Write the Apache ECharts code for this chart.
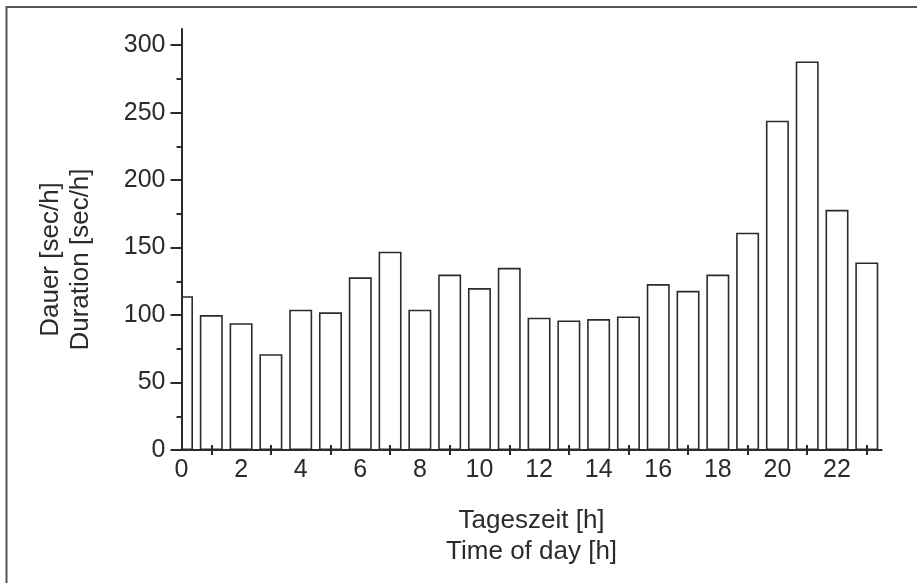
<!DOCTYPE html>
<html>
<head>
<meta charset="utf-8">
<script src="https://cdn.jsdelivr.net/npm/echarts@6/dist/echarts.min.js"></script>
<style>
  html, body { margin: 0; padding: 0; background: #fff; }
  #chart { width: 917px; height: 583px; }
</style>
</head>
<body>
<div id="chart"></div>
<script>
const hours = [0, 1, 2, 3, 4, 5, 6, 7, 8, 9, 10, 11, 12, 13, 14, 15, 16, 17, 18, 19, 20, 21, 22, 23];
const duration = [114, 100, 94, 71, 104, 102, 128, 147, 104, 130, 120, 135, 98, 96, 97, 99, 123, 118, 130, 161, 244, 288, 178, 139];
const xLabels = [0, 2, 4, 6, 8, 10, 12, 14, 16, 18, 20, 22];
const xMinorTicks = [1, 3, 5, 7, 9, 11, 13, 15, 17, 19, 21, 23];
const yMajor = [0, 50, 100, 150, 200, 250, 300];
const yMinor = [25, 75, 125, 175, 225, 275];

const ink = '#2b2b2b';
const font = 'Liberation Sans, Arial, sans-serif';
const gridLeft = 181.5;

const chart = echarts.init(document.getElementById('chart'));

const xBase = { type: 'value', min: 0, max: 23.5, position: 'bottom', splitLine: { show: false } };
const yBase = { type: 'value', min: 0, max: 312, position: 'left', splitLine: { show: false } };

chart.setOption({
    animation: false,
    grid: { left: gridLeft, right: 35.3, top: 29, bottom: 133, outerBoundsMode: 'none' },
    xAxis: [
        Object.assign({}, xBase, {
            z: 5,
            axisLine: { lineStyle: { color: ink, width: 2 } },
            axisTick: { customValues: xMinorTicks, length: 5, lineStyle: { color: ink, width: 2 } },
            axisLabel: { customValues: xLabels, margin: 8, color: ink, fontSize: 25, fontFamily: font },
            name: 'Tageszeit [h]\nTime of day [h]',
            nameLocation: 'middle',
            nameGap: 55,
            nameTextStyle: { color: ink, fontSize: 26, fontFamily: font, lineHeight: 31 }
        }),
        Object.assign({}, xBase, {
            z: 5,
            axisLine: { show: false },
            axisTick: { customValues: xMinorTicks, inside: true, length: 5, lineStyle: { color: ink, width: 2 } },
            axisLabel: { show: false }
        })
    ],
    yAxis: [
        Object.assign({}, yBase, {
            z: 5,
            axisLine: { show: true, lineStyle: { color: ink, width: 2 } },
            axisTick: { show: true, customValues: yMajor, length: 11, lineStyle: { color: ink, width: 2 } },
            axisLabel: { customValues: yMajor, margin: 16, color: ink, fontSize: 25, fontFamily: font },
            name: 'Dauer [sec/h]\nDuration [sec/h]',
            nameLocation: 'middle',
            nameGap: 86,
            nameRotate: 90,
            nameTextStyle: { color: ink, fontSize: 26, fontFamily: font, lineHeight: 30, padding: [0, 40, 0, 0] }
        }),
        Object.assign({}, yBase, {
            z: 5,
            axisLine: { show: false },
            axisTick: { show: true, customValues: yMinor, length: 5, lineStyle: { color: ink, width: 2 } },
            axisLabel: { show: false }
        })
    ],
    graphic: [
        {
            type: 'polyline',
            shape: { points: [[6.5, 583], [6.5, 7], [917, 7]] },
            style: { stroke: '#555', lineWidth: 2, fill: null }
        },
        {
            // hides the half of the first bar that falls left of the y axis
            type: 'rect',
            z: 3,
            shape: { x: gridLeft - 20, y: 20, width: 20, height: 430 },
            style: { fill: '#fff' }
        }
    ],
    series: [{
        type: 'bar',
        xAxisIndex: 0,
        yAxisIndex: 0,
        barWidth: 23,
        clip: true,
        itemStyle: { color: '#fff', borderColor: ink, borderWidth: 1.6 },
        data: hours.map((h, i) => [h, duration[i]])
    }]
});
</script>
</body>
</html>
